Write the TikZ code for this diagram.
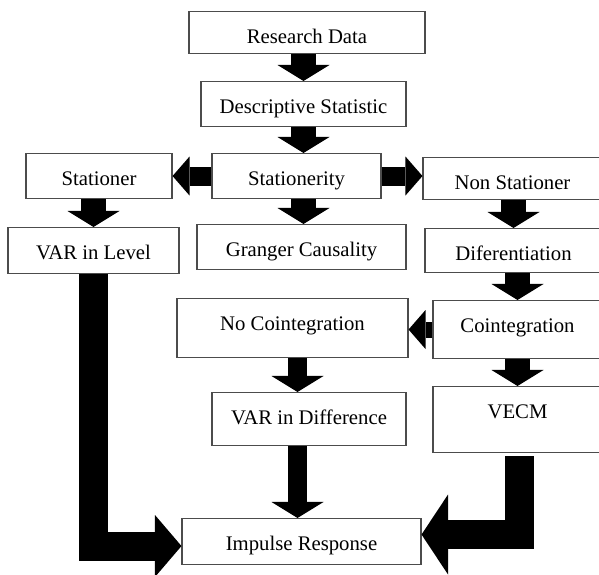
\documentclass[tikz,border=0pt]{standalone}
\usepackage{fontspec}
\setmainfont{Liberation Serif}
\usetikzlibrary{arrows.meta}

\tikzset{
    stage/.style 2 args={draw=black!70, line width=0.6pt, anchor=north,
        inner xsep=0pt, inner ysep=0pt, minimum width=#1,
        text height=0.64cm, text depth=#2,
        font=\fontsize{11.8}{13.5}\selectfont},
    fat/.style={line width=0.5cm,
        -{Triangle[length=0.32cm 0 0, width=1.04cm 0 0, line width=0pt 0 0]}},
    fatside/.style={line width=0.38cm,
        -{Triangle[length=0.34cm 0 0, width=0.78cm 0 0, line width=0pt 0 0]}},
    fatL/.style={line width=0.58cm, line join=miter,
        -{Triangle[length=0.53cm 0 0, width=#1 0 0, line width=0pt 0 0]}},
}

\begin{document}
\begin{tikzpicture}
    \useasboundingbox (0,0) rectangle (11.98,-11.5);

    % kotak
    \node[stage={4.72cm}{0.2cm}]  (rd)   at (6.14,-0.22)  {Research Data};
    \node[stage={4.10cm}{0.26cm}] (ds)   at (6.07,-1.62)  {Descriptive Statistic};
    \node[stage={3.38cm}{0.26cm}] (stn)  at (5.93,-3.06)  {Stationerity};
    \node[stage={2.92cm}{0.26cm}] (st)   at (1.98,-3.06)  {Stationer};
    \node[stage={3.58cm}{0.2cm}]  (nst)  at (10.25,-3.14) {Non Stationer};
    \node[stage={3.42cm}{0.28cm}] (vl)   at (1.87,-4.54)  {VAR in Level};
    \node[stage={4.18cm}{0.26cm}] (gc)   at (6.03,-4.48)  {Granger Causality};
    \node[stage={3.54cm}{0.24cm}] (dif)  at (10.27,-4.56) {Diferentiation};
    \node[stage={4.62cm}{0.54cm}] (nc)   at (5.85,-5.96)  {No Cointegration};
    \node[stage={3.38cm}{0.52cm}] (co)   at (10.35,-6.0)  {Cointegration};
    \node[stage={3.88cm}{0.42cm}] (vd)   at (6.18,-7.84)  {VAR in Difference};
    \node[stage={3.38cm}{0.68cm}] (vecm) at (10.35,-7.72) {VECM};
    \node[stage={4.78cm}{0.28cm}] (ir)   at (6.03,-10.36) {Impulse Response};

    % panah
    \draw[fat] (ds.north |- rd.south) -- (ds.north);
    \draw[fat] (ds.south) -- (ds.south |- stn.north);
    \draw[fatside] (stn.west) -- (st.east);
    \draw[fatside] (stn.east) -- (stn.east -| nst.west);
    \draw[fat] (ds.south |- stn.south) -- (ds.south |- gc.north);
    \draw[fat] (vl.north |- st.south) -- (vl.north);
    \draw[fat] (dif.north |- nst.south) -- (dif.north);
    \draw[fat] (co.north |- dif.south) -- (co.north);
    \draw[fatside, line width=0.32cm] (co.west) -- (co.west -| nc.east);
    \draw[fat, line width=0.38cm] ([xshift=0.1cm]nc.south) -- ([xshift=0.1cm]nc.south |- vd.north);
    \draw[fat, line width=0.38cm] ([xshift=-0.23cm]vd.south) -- ([xshift=-0.23cm]vd.south |- ir.north);
    \draw[fat] (co.south) -- (vecm.north);
    \draw[fatL=1.24cm] (vl.south) |- ([yshift=-0.09cm]ir.west);
    \draw[fatL=1.6cm] ([xshift=0.04cm,yshift=-0.06cm]vecm.south) |- ([yshift=0.14cm]ir.east);
\end{tikzpicture}
\end{document}
